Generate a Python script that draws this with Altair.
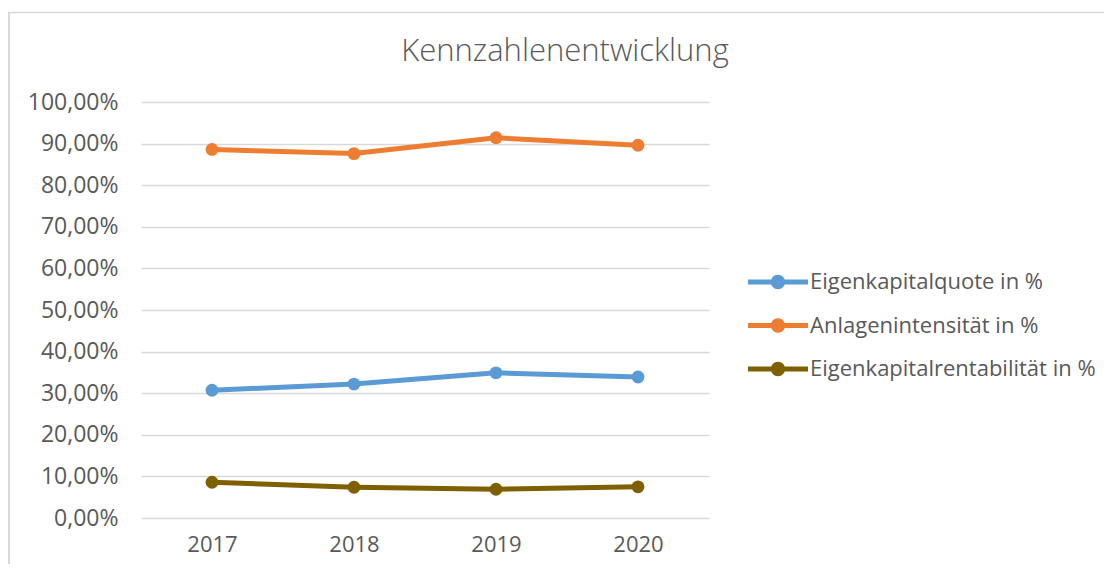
import altair as alt
import pandas as pd

years = ["2017", "2018", "2019", "2020"]
series = ["Eigenkapitalquote in %", "Anlagenintensität in %", "Eigenkapitalrentabilität in %"]
eigenkapitalquote = [30.7, 32.2, 34.9, 33.9]
anlagenintensitaet = [88.6, 87.6, 91.4, 89.6]
eigenkapitalrentabilitaet = [8.6, 7.4, 6.9, 7.5]
colors = ["#5B9BD5", "#ED7D31", "#7F6000"]
title_text = ["Kennzahlenentwicklung"]

rows = []
for name, vals in zip(series, [eigenkapitalquote, anlagenintensitaet, eigenkapitalrentabilitaet]):
    for y, v in zip(years, vals):
        rows.append({"Jahr": y, "Kennzahl": name, "Wert": v})
df = pd.DataFrame(rows)

font = "Open Sans"
text_color = "#595959"
grid_color = "#D9D9D9"

sym = ("M-1,-0.085 L1,-0.085 L1,0.085 L-1,0.085 Z "
       "M-0.24,0 A0.24,0.24 0 1,1 0.24,0 A0.24,0.24 0 1,1 -0.24,0 Z")

color = alt.Color(
    "Kennzahl:N",
    scale=alt.Scale(domain=series, range=colors),
    sort=series,
    legend=alt.Legend(
        title=None, orient="none", legendX=607, legendY=150,
        symbolType=sym, symbolSize=3600, symbolStrokeWidth=0,
        labelFont=font, labelFontSize=22, labelColor=text_color,
        labelOffset=2, rowPadding=2.5, labelLimit=500,
    ),
)

base = alt.Chart(df).encode(
    x=alt.X("Jahr:O", sort=years,
            axis=alt.Axis(title=None, labelAngle=0, ticks=False, domain=False, grid=False,
                          labelFont=font, labelFontSize=22, labelColor=text_color,
                          labelPadding=16)),
    y=alt.Y("Wert:Q", scale=alt.Scale(domain=[0, 100], nice=False),
            axis=alt.Axis(title=None, ticks=False, domain=False, grid=True,
                          gridColor=grid_color, gridWidth=1.5, labelOverlap=False,
                          values=[0, 10, 20, 30, 40, 50, 60, 70, 80, 90, 100],
                          labelExpr="replace(format(datum.value, '.2f'), '.', ',') + '%'",
                          labelFont=font, labelFontSize=23, labelColor=text_color,
                          labelPadding=23)),
    color=color,
)

lines = base.mark_line(strokeWidth=5)
points = base.mark_point(filled=True, size=165, opacity=1)

title = alt.Chart(pd.DataFrame({"t": title_text})).mark_text(
    align="center", baseline="alphabetic", font=font, fontSize=31, fontWeight=300,
    color=text_color,
).encode(text="t:N", x=alt.value(424), y=alt.value(-41))

frame_top = alt.Chart(pd.DataFrame({"t": title_text})).mark_rule(
    color=grid_color, strokeWidth=1.5
).encode(x=alt.value(-133), x2=alt.value(980), y=alt.value(-89.5))
frame_left = alt.Chart(pd.DataFrame({"t": title_text})).mark_rule(
    color=grid_color, strokeWidth=2
).encode(x=alt.value(-132), y=alt.value(-90), y2=alt.value(470))

chart = alt.layer(frame_top, frame_left, lines, points, title).properties(
    width=568, height=416,
    autosize=alt.AutoSizeParams(type="none"),
    padding={"left": 133, "top": 94, "right": 395, "bottom": 46},
).configure(background="white").configure_view(stroke=None)

chart.save("out.html", embed_options={"renderer": "svg", "actions": False})
